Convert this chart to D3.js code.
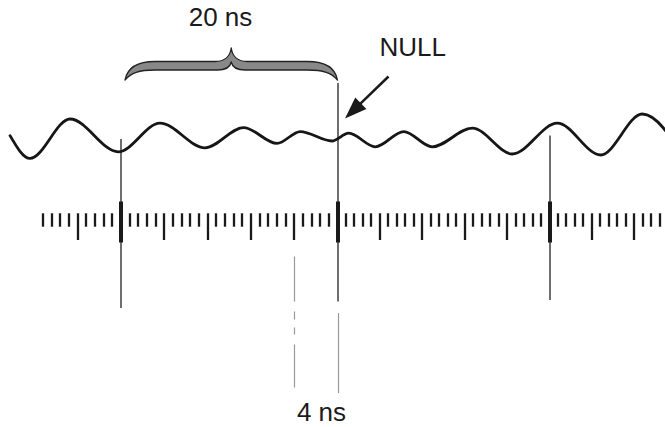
<!DOCTYPE html>
<html>
<head>
<meta charset="utf-8">
<script src="https://cdn.jsdelivr.net/npm/d3@7"></script>
<style>
	html, body { margin:0; padding:0; background:#fff; }
	svg { display:block; font-family:"Liberation Sans", Arial, sans-serif; }
</style>
</head>
<body>
<svg id="chart" width="665" height="427"></svg>
<script>
// wave extrema, time in ns, amplitude in arbitrary units
var waveNs  = [-10.25, -8.41, -4.71, -0.25, 3.60, 7.76, 11.33, 14.41, 16.56, 19.49, 21.06, 23.57, 26.25, 28.92, 32.72, 36.49, 40.74, 44.83, 48.75, 52.7];
var waveAmp = [0.07, -1.07, 0.90, -0.74, 0.69, -0.54, 0.47, -0.32, 0.27, -0.20, 0.19, -0.49, 0.27, -0.49, 0.44, -0.85, 0.69, -0.90, 1.15, -1.05];

// ruler : one tick every 0.8 ns, long every 5, marker every 25
var tickNs = 0.8;
var tickFirst = -9, tickLast = 63;
var markerNs = [0, 20, 40];

// annotations
var braceNs = [0, 20];
var braceLabel = '20 ns';
var nullLabel = 'NULL';
var gapNs = [16, 20];
var gapLabel = '4 ns';

var svg = d3.select('#chart');

var x = d3.scaleLinear().domain([0, 20, 40]).range([121, 337.5, 549.5]);
var y = d3.scaleLinear().domain([-1, 1]).range([157, 117]);
var px = function(t){ return Math.round(x(t)); };

// vertical marker lines (top / bottom per marker)
var markerSpan = [[139, 308], [83, 301.5], [135.5, 300]];
svg.append('g').selectAll('line')
	.data(markerNs)
	.enter().append('line')
	.attr('x1', px)
	.attr('x2', px)
	.attr('y1', function(d, i){ return markerSpan[i][0]; })
	.attr('y2', function(d, i){ return markerSpan[i][1]; })
	.attr('stroke', '#6e6e6e')
	.attr('stroke-width', 2);

// ruler ticks
var ticks = d3.range(tickFirst, tickLast + 1).map(function(i){ return {i:i, t:i*tickNs}; });
svg.append('g').selectAll('line')
	.data(ticks)
	.enter().append('line')
	.attr('x1', function(d){ return px(d.t); })
	.attr('x2', function(d){ return px(d.t); })
	.attr('y1', function(d){ return d.i % 25 === 0 ? 201.5 : 213.3; })
	.attr('y2', function(d){ return d.i % 25 === 0 ? 242.5 : (d.i % 5 === 0 ? 240 : 226.7); })
	.attr('stroke', '#1a1a1a')
	.attr('stroke-width', function(d){ return d.i % 25 === 0 ? 4 : 2.3; });

// wave
var line = d3.line()
	.x(function(d){ return x(d[0]); })
	.y(function(d){ return y(d[1]); })
	.curve(d3.curveMonotoneX);
svg.append('path')
	.datum(d3.zip(waveNs, waveAmp))
	.attr('d', line)
	.attr('fill', 'none')
	.attr('stroke', '#161616')
	.attr('stroke-width', 2.8)
	.attr('stroke-linecap', 'round');

// brace
function bracePath(x0, x1, yEnd, yTop, th, yTip){
	var xm = (x0 + x1) / 2, yb = yTop + th, p = d3.path();
	p.moveTo(x0, yEnd);
	p.bezierCurveTo(x0 + 2, yTop + 8, x0 + 10, yTop, x0 + 30, yTop);
	p.lineTo(xm - 16, yTop);
	p.bezierCurveTo(xm - 6, yTop, xm - 1, yTop - 6, xm, yTip);
	p.bezierCurveTo(xm + 1, yTop - 6, xm + 6, yTop, xm + 16, yTop);
	p.lineTo(x1 - 30, yTop);
	p.bezierCurveTo(x1 - 10, yTop, x1 - 2, yTop + 8, x1, yEnd);
	p.bezierCurveTo(x1 - 6, yb + 3, x1 - 14, yb, x1 - 30, yb);
	p.lineTo(xm + 14, yb);
	p.bezierCurveTo(xm + 5, yb, xm + 1, yb - 3, xm, yb - 8);
	p.bezierCurveTo(xm - 1, yb - 3, xm - 5, yb, xm - 14, yb);
	p.lineTo(x0 + 30, yb);
	p.bezierCurveTo(x0 + 14, yb, x0 + 6, yb + 3, x0, yEnd);
	p.closePath();
	return p.toString();
}
svg.append('path')
	.attr('d', bracePath(x(braceNs[0]) + 4, x(braceNs[1]), 80, 61.5, 8.5, 48))
	.attr('fill', '#888')
	.attr('stroke', '#222')
	.attr('stroke-width', 1.3)
	.attr('stroke-linejoin', 'round');

svg.append('text')
	.attr('x', 220.5).attr('y', 25.5)
	.attr('text-anchor', 'middle')
	.attr('font-size', 26)
	.attr('fill', '#1a1a1a')
	.text(braceLabel);

// null arrow
var tail = [388.5, 76.5], tip = [x(20) + 7.5, 118.5];
var dx = tip[0] - tail[0], dy = tip[1] - tail[1], len = Math.sqrt(dx*dx + dy*dy);
var ux = dx / len, uy = dy / len, hl = 22, hw = 8;
var base = [tip[0] - ux*hl, tip[1] - uy*hl];
svg.append('line')
	.attr('x1', tail[0]).attr('y1', tail[1])
	.attr('x2', base[0] + ux*2).attr('y2', base[1] + uy*2)
	.attr('stroke', '#1a1a1a')
	.attr('stroke-width', 2.5);
svg.append('path')
	.attr('d', 'M' + tip + 'L' + [base[0] - uy*hw, base[1] + ux*hw] + 'L' + [base[0] + uy*hw, base[1] - ux*hw] + 'Z')
	.attr('fill', '#1a1a1a');

svg.append('text')
	.attr('x', 379.5).attr('y', 55.5)
	.attr('font-size', 26)
	.attr('fill', '#1a1a1a')
	.text(nullLabel);

// 4 ns gap lines
svg.append('line')
	.attr('x1', px(gapNs[0]) + 0.5).attr('x2', px(gapNs[0]) + 0.5)
	.attr('y1', 256.5).attr('y2', 388)
	.attr('stroke', '#999')
	.attr('stroke-width', 1.2)
	.attr('stroke-dasharray', '45,10,8,8,7,10,43');
svg.append('line')
	.attr('x1', px(gapNs[1]) + 0.5).attr('x2', px(gapNs[1]) + 0.5)
	.attr('y1', 313).attr('y2', 393)
	.attr('stroke', '#999')
	.attr('stroke-width', 1.2);

svg.append('text')
	.attr('x', 321.5).attr('y', 420.5)
	.attr('text-anchor', 'middle')
	.attr('font-size', 26)
	.attr('fill', '#1a1a1a')
	.text(gapLabel);
</script>
</body>
</html>
